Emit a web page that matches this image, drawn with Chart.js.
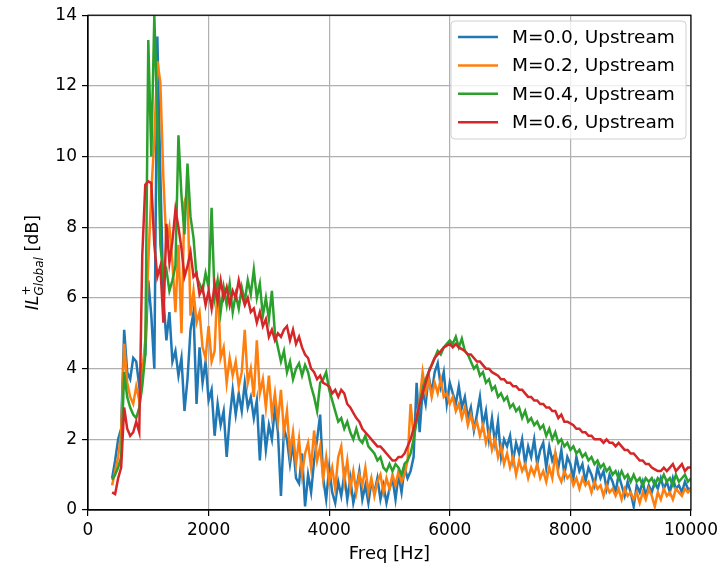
<!DOCTYPE html>
<html>
<head>
<meta charset="utf-8">
<script src="https://cdn.jsdelivr.net/npm/chart.js@4.4.1/dist/chart.umd.min.js"></script>
<style>
  html, body { margin: 0; padding: 0; background: #fff; }
  #wrap { width: 722px; height: 570px; position: relative; }
</style>
</head>
<body>
<div id="wrap"><canvas id="myChart" width="722" height="570"></canvas></div>
<script>
/****************
--- DATA ---
*****************/

// frequency grid [Hz]
const freq = [
  400, 450, 500, 550, 600, 650, 700, 750, 800, 850,
  900, 950, 1000, 1050, 1100, 1150, 1200, 1250, 1300, 1350,
  1400, 1450, 1500, 1550, 1600, 1650, 1700, 1750, 1800, 1850,
  1900, 1950, 2000, 2050, 2100, 2150, 2200, 2250, 2300, 2350,
  2400, 2450, 2500, 2550, 2600, 2650, 2700, 2750, 2800, 2850,
  2900, 2950, 3000, 3050, 3100, 3150, 3200, 3250, 3300, 3350,
  3400, 3450, 3500, 3550, 3600, 3650, 3700, 3750, 3800, 3850,
  3900, 3950, 4000, 4050, 4100, 4150, 4200, 4250, 4300, 4350,
  4400, 4450, 4500, 4550, 4600, 4650, 4700, 4750, 4800, 4850,
  4900, 4950, 5000, 5050, 5100, 5150, 5200, 5250, 5300, 5350,
  5400, 5450, 5500, 5550, 5600, 5650, 5700, 5750, 5800, 5850,
  5900, 5950, 6000, 6050, 6100, 6150, 6200, 6250, 6300, 6350,
  6400, 6450, 6500, 6550, 6600, 6650, 6700, 6750, 6800, 6850,
  6900, 6950, 7000, 7050, 7100, 7150, 7200, 7250, 7300, 7350,
  7400, 7450, 7500, 7550, 7600, 7650, 7700, 7750, 7800, 7850,
  7900, 7950, 8000, 8050, 8100, 8150, 8200, 8250, 8300, 8350,
  8400, 8450, 8500, 8550, 8600, 8650, 8700, 8750, 8800, 8850,
  8900, 8950, 9000, 9050, 9100, 9150, 9200, 9250, 9300, 9350,
  9400, 9450, 9500, 9550, 9600, 9650, 9700, 9750, 9800, 9850,
  9900, 9950, 10000,
];

// IL+ Global [dB], M = 0.0
const ilM00 = [
  0.9, 1.4, 2.0, 2.3, 5.1, 3.9, 3.7, 4.3, 4.2, 3.5,
  4.1, 4.4, 6.5, 5.5, 4.0, 13.4, 9.5, 6.0, 4.8, 5.6,
  4.2, 4.5, 3.8, 4.3, 2.8, 3.7, 5.1, 5.6, 3.0, 4.6,
  3.6, 4.2, 3.1, 3.4, 2.1, 3.0, 2.4, 2.8, 1.5, 2.6,
  3.4, 2.7, 3.3, 2.8, 3.6, 2.9, 3.2, 2.6, 3.1, 1.4,
  2.7, 1.7, 2.4, 2.0, 2.9, 2.2, 0.4, 2.3, 2.0, 1.3,
  1.9, 0.9, 0.75, 1.6, 0.1, 1.0, 0.5, 1.4, 2.0, 2.7,
  0.9, 0.3, 1.2, 0.5, 0.2, 0.8, 0.4, 1.0, 0.3, 0.9,
  0.2, 0.6, 1.1, 0.3, 0.7, 0.2, 0.8, 0.5, 0.9, 0.3,
  0.7, 0.2, 0.6, 0.9, 0.3, 1.0, 0.5, 1.2, 0.9, 1.1,
  1.5, 3.6, 2.2, 3.4, 3.0, 3.8, 3.3, 3.9, 4.15, 3.5,
  3.9, 3.0, 3.6, 3.3, 3.0, 3.5, 2.9, 3.2, 2.6, 2.9,
  2.25, 2.7, 3.2, 2.4, 2.8, 2.0, 2.6, 1.9, 2.5, 1.5,
  2.0, 1.8, 2.1, 1.4, 1.9, 1.6, 2.0, 1.3, 1.8, 1.5,
  2.0, 1.3, 1.7, 1.9, 1.2, 1.8, 1.4, 1.6, 1.2, 1.7,
  1.0, 1.5, 1.3, 0.9, 1.5, 1.1, 1.3, 0.8, 1.2, 1.0,
  0.7, 1.2, 0.9, 1.1, 0.6, 1.0, 0.8, 0.5, 1.0, 0.7,
  0.4, 0.8, 0.5, 0.1, 0.7, 0.5, 0.8, 0.4, 0.7, 0.5,
  0.8, 0.6, 0.9, 0.6, 0.8, 0.5, 0.9, 0.6, 0.7, 0.5,
  0.8, 0.6, 0.6,
];

// M = 0.2
const ilM02 = [
  0.7, 1.1, 1.5, 2.2, 4.7, 3.6, 3.2, 3.0, 3.5, 3.1,
  3.9, 4.8, 7.0, 9.0, 10.5, 12.7, 12.1, 9.4, 7.5, 8.0,
  7.0, 5.6, 7.5, 5.0, 8.7, 9.0, 5.5, 6.2, 5.3, 5.6,
  4.6, 4.3, 5.2, 4.2, 4.5, 6.5, 4.3, 4.6, 3.6, 4.3,
  3.8, 4.2, 3.5, 3.9, 5.1, 3.6, 4.0, 3.2, 4.8, 3.3,
  3.7, 2.9, 3.8, 2.7, 3.3, 2.5, 3.4, 2.2, 2.8, 1.6,
  2.2, 1.3, 2.0, 1.0, 1.6, 1.9, 1.2, 2.25, 1.4, 1.8,
  0.9, 1.5, 0.8, 1.2, 0.6, 1.5, 1.8, 0.8, 1.4, 0.6,
  1.1, 0.5, 1.0, 0.7, 1.2, 0.5, 0.9, 0.4, 0.8, 1.0,
  0.5, 0.9, 0.6, 1.0, 0.7, 1.1, 0.8, 1.0, 1.4, 3.0,
  2.1, 2.6, 3.1, 3.9, 3.3, 3.7, 3.2, 3.6, 3.3, 3.7,
  3.2, 3.3, 3.0, 3.2, 2.8, 3.0, 2.6, 2.9, 2.4, 2.7,
  2.3, 2.5, 2.1, 2.4, 1.9, 2.2, 1.7, 2.0, 1.5, 1.8,
  1.3, 1.6, 1.2, 1.5, 1.0, 1.4, 1.1, 1.3, 0.9, 1.2,
  1.0, 1.3, 0.9, 1.1, 0.8, 1.2, 0.9, 1.6, 1.0, 0.8,
  1.1, 0.9, 1.0, 0.7, 0.9, 0.6, 0.9, 0.7, 0.8, 0.5,
  0.8, 0.6, 0.7, 0.4, 0.7, 0.5, 0.6, 0.4, 0.6, 0.3,
  0.6, 0.4, 0.5, 0.3, 0.5, 0.2, 0.5, 0.3, 0.6, 0.4,
  0.1, 0.5, 0.3, 0.6, 0.4, 0.5, 0.3, 0.6, 0.5, 0.4,
  0.6, 0.5, 0.6,
];

// M = 0.4
const ilM04 = [
  0.85, 1.0, 1.2, 1.5, 3.9, 3.2, 2.9, 2.7, 2.6, 2.9,
  3.5, 4.4, 13.3, 10.0, 14.0, 11.0, 7.5, 6.6, 6.8, 6.2,
  6.5, 6.9, 10.6, 8.9, 7.8, 9.8, 8.3, 7.7, 6.6, 6.4,
  6.2, 6.7, 6.3, 8.55, 6.0, 6.5, 5.6, 6.3, 5.8, 6.4,
  5.6, 6.1, 5.7, 6.3, 5.9, 6.5, 6.1, 6.8, 6.0, 6.4,
  5.5, 6.0, 5.4, 6.2, 5.0, 4.6, 4.2, 4.5, 3.9, 4.2,
  3.7, 4.0, 4.15, 3.8, 4.1, 3.9, 3.5, 3.2, 2.8, 3.6,
  3.7, 3.9, 3.4, 3.1, 2.8, 2.5, 2.6, 2.3, 2.5, 2.2,
  2.0, 2.3, 2.0, 1.9, 2.1, 1.8, 1.7, 1.6, 1.4, 1.5,
  1.2, 1.1, 1.3, 1.1, 1.3, 1.2, 1.0, 1.3, 1.4, 1.6,
  2.0, 2.5, 3.0, 3.4, 3.7, 3.9, 4.1, 4.3, 4.5, 4.4,
  4.6, 4.7, 4.8, 4.7, 4.9, 4.6, 4.85, 4.5, 4.4, 4.2,
  4.0, 4.1, 3.8, 3.9, 3.6, 3.7, 3.4, 3.5, 3.2, 3.3,
  3.1, 3.2, 2.9, 3.0, 2.8, 2.9, 2.6, 2.8, 2.5, 2.6,
  2.4, 2.5, 2.3, 2.4, 2.1, 2.3, 2.0, 2.2, 1.9, 2.0,
  1.8, 1.9, 1.7, 1.8, 1.6, 1.7, 1.5, 1.6, 1.4, 1.5,
  1.3, 1.4, 1.2, 1.3, 1.1, 1.2, 1.0, 1.1, 0.9, 1.1,
  0.9, 1.0, 0.8, 1.0, 0.8, 0.9, 0.7, 0.9, 0.8, 0.9,
  0.7, 0.9, 0.8, 1.0, 0.8, 0.9, 0.7, 1.0, 0.8, 0.9,
  1.0, 0.8, 0.9,
];

// M = 0.6
const ilM06 = [
  0.5, 0.45, 0.9, 1.2, 2.9, 2.3, 2.1, 2.2, 2.5, 2.2,
  7.2, 9.2, 9.3, 9.25, 7.5, 6.6, 6.9, 5.3, 8.1, 7.0,
  7.6, 8.5, 8.0, 7.4, 6.6, 6.9, 7.3, 6.6, 6.7, 6.1,
  6.3, 5.8, 6.2, 5.7, 6.4, 5.9, 6.5, 6.0, 6.3, 5.8,
  6.2, 6.0, 6.5, 6.1, 5.8, 6.0, 5.6, 5.7, 5.3, 5.6,
  5.2, 5.4, 4.9, 5.1, 4.8, 5.0, 4.9, 5.1, 5.2, 4.8,
  5.1, 4.7, 4.9, 4.6, 4.4, 4.3, 4.0, 3.9, 3.7, 3.8,
  3.6, 3.55, 3.5, 3.3, 3.4, 3.2, 3.4, 3.3, 3.0, 2.9,
  2.75, 2.6, 2.5, 2.3, 2.2, 2.1, 2.0, 1.9, 1.8, 1.8,
  1.7, 1.6, 1.5, 1.4, 1.4, 1.5, 1.5, 1.6, 1.8, 2.0,
  2.3, 2.6, 3.0, 3.3, 3.6, 3.9, 4.1, 4.3, 4.4, 4.5,
  4.6, 4.65, 4.7, 4.6, 4.7, 4.6, 4.55, 4.5, 4.4, 4.4,
  4.3, 4.2, 4.2, 4.1, 4.0, 4.0, 3.9, 3.85, 3.8, 3.7,
  3.7, 3.6, 3.6, 3.5, 3.5, 3.4, 3.4, 3.3, 3.2, 3.2,
  3.1, 3.1, 3.0, 3.0, 2.9, 2.9, 2.8, 2.8, 2.6, 2.7,
  2.5, 2.5, 2.45, 2.4, 2.3, 2.3, 2.2, 2.2, 2.1, 2.1,
  2.0, 2.0, 2.0, 1.9, 2.0, 1.9, 1.9, 1.8, 1.9, 1.8,
  1.7, 1.7, 1.6, 1.6, 1.5, 1.4, 1.4, 1.3, 1.3, 1.2,
  1.15, 1.1, 1.1, 1.2, 1.1, 1.2, 1.3, 1.1, 1.2, 1.3,
  1.1, 1.2, 1.2,
];

const seriesLabels = ["M=0.0, Upstream", "M=0.2, Upstream", "M=0.4, Upstream", "M=0.6, Upstream"];
const seriesColors = ["#1f77b4", "#ff7f0e", "#2ca02c", "#d62728"];
const xTicks = [0, 2000, 4000, 6000, 8000, 10000];
const yTicks = [0, 2, 4, 6, 8, 10, 12, 14];

/*******************
  --- HELPERS ---
********************/

const FONT = "DejaVu Sans";
const toPoints = (vals) => vals.map((v, i) => ({ x: freq[i], y: v }));

// frame on all four sides, like matplotlib spines
const framePlugin = {
  id: "frame",
  afterDatasetsDraw(chart) {
    const { ctx, chartArea: a } = chart;
    ctx.save();
    ctx.strokeStyle = "#000";
    ctx.lineWidth = 1.2;
    ctx.strokeRect(a.left, a.top, a.right - a.left, a.bottom - a.top);
    ctx.restore();
  },
};

// axis titles (y one has sub/superscript)
const titlesPlugin = {
  id: "titles",
  afterDraw(chart) {
    const { ctx, chartArea: a } = chart;
    ctx.save();
    ctx.fillStyle = "#000";
    ctx.textBaseline = "alphabetic";
    ctx.textAlign = "center";
    ctx.font = `18px "${FONT}"`;
    ctx.fillText("Freq [Hz]", (a.left + a.right) / 2, 559);

    // y title, rotated
    const big = `italic 17.5px "${FONT}"`;
    const small = `12px "${FONT}"`;
    const smallIt = `italic 12px "${FONT}"`;
    const norm = `17.5px "${FONT}"`;
    ctx.font = big;
    const wIL = ctx.measureText("IL").width;
    ctx.font = small;
    const wPlus = ctx.measureText("+").width;
    ctx.font = smallIt;
    const wSub = ctx.measureText("Global").width;
    ctx.font = norm;
    const wRest = ctx.measureText(" [dB]").width;
    const total = wIL + Math.max(wPlus, wSub) + wRest;

    ctx.translate(38, (a.top + a.bottom) / 2);
    ctx.rotate(-Math.PI / 2);
    ctx.textAlign = "left";
    let x = -total / 2;
    ctx.font = big;
    ctx.fillText("IL", x, 0);
    x += wIL;
    ctx.font = small;
    ctx.fillText("+", x, -8);
    ctx.font = smallIt;
    ctx.fillText("Global", x, 4.5);
    x += Math.max(wPlus, wSub);
    ctx.font = norm;
    ctx.fillText(" [dB]", x, 0);
    ctx.restore();
  },
};

// legend box in the upper right of the axes
const legendPlugin = {
  id: "boxLegend",
  afterDraw(chart) {
    const { ctx } = chart;
    const bx = 451, by = 21, bw = 235, bh = 118, r = 4;
    ctx.save();
    ctx.beginPath();
    ctx.moveTo(bx + r, by);
    ctx.arcTo(bx + bw, by, bx + bw, by + bh, r);
    ctx.arcTo(bx + bw, by + bh, bx, by + bh, r);
    ctx.arcTo(bx, by + bh, bx, by, r);
    ctx.arcTo(bx, by, bx + bw, by, r);
    ctx.closePath();
    ctx.fillStyle = "rgba(255,255,255,0.8)";
    ctx.fill();
    ctx.strokeStyle = "#d0d0d0";
    ctx.lineWidth = 1;
    ctx.stroke();

    ctx.font = `18.5px "${FONT}"`;
    ctx.textBaseline = "middle";
    ctx.textAlign = "left";
    seriesLabels.forEach((lab, i) => {
      const y = 37 + i * 28.4;
      ctx.strokeStyle = seriesColors[i];
      ctx.lineWidth = 2.5;
      ctx.beginPath();
      ctx.moveTo(458, y);
      ctx.lineTo(498, y);
      ctx.stroke();
      ctx.fillStyle = "#000";
      ctx.fillText(lab, 512, y + 1);
    });
    ctx.restore();
  },
};

/*******************
  --- CHART ---
********************/

const allSeries = [ilM00, ilM02, ilM04, ilM06];

const ctx = document.getElementById("myChart").getContext("2d");
const myChart = new Chart(ctx, {
  type: "line",
  data: {
    datasets: allSeries.map((vals, i) => ({
      label: seriesLabels[i],
      data: toPoints(vals),
      borderColor: seriesColors[i],
      backgroundColor: seriesColors[i],
      borderWidth: 2.5,
      pointRadius: 0,
      tension: 0,
      fill: false,
      order: 4 - i,
    })),
  },
  options: {
    responsive: false,
    animation: false,
    events: [],
    layout: { padding: { left: 0, top: 14, right: 28, bottom: 0 } },
    plugins: {
      legend: { display: false },
      tooltip: { enabled: false },
    },
    scales: {
      x: {
        type: "linear",
        min: 0,
        max: 10000,
        afterFit: (s) => { s.height = 60; },
        afterBuildTicks: (s) => { s.ticks = xTicks.map((v) => ({ value: v })); },
        ticks: {
          color: "#000",
          font: { family: FONT, size: 17 },
          padding: 4,
          maxRotation: 0,
          callback: (v) => String(v),
        },
        grid: { color: "#b0b0b0", lineWidth: 1.2, tickLength: 6, tickColor: "#000", tickWidth: 1.2 },
        border: { color: "#000", width: 1.2 },
      },
      y: {
        type: "linear",
        min: 0,
        max: 14,
        afterFit: (s) => { s.width = 88; },
        afterBuildTicks: (s) => { s.ticks = yTicks.map((v) => ({ value: v })); },
        ticks: {
          color: "#000",
          font: { family: FONT, size: 17 },
          padding: 5,
          callback: (v) => String(v),
        },
        grid: { color: "#b0b0b0", lineWidth: 1.2, tickLength: 6, tickColor: "#000", tickWidth: 1.2 },
        border: { color: "#000", width: 1.2 },
      },
    },
  },
  plugins: [framePlugin, titlesPlugin, legendPlugin],
});
</script>
</body>
</html>
